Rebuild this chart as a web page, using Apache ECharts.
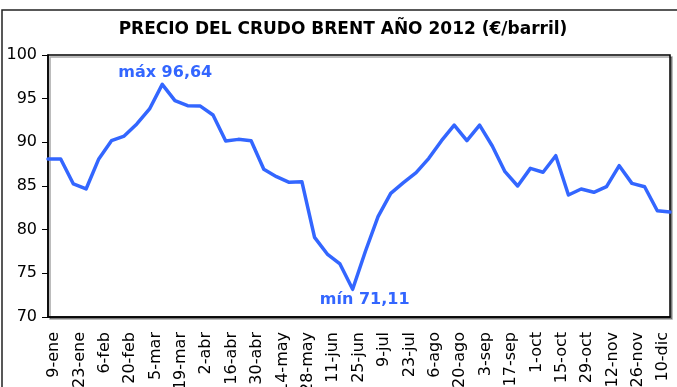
<!DOCTYPE html>
<html>
<head>
<meta charset="utf-8">
<script src="https://cdn.jsdelivr.net/npm/echarts@6/dist/echarts.min.js"></script>
<style>
  html, body { margin: 0; padding: 0; background: #fff; }
  #chart { width: 677px; height: 387px; }
</style>
</head>
<body>
<div id="chart"></div>
<script>
// Weekly Brent crude price in euros per barrel, 2012
const weeks = [
  '9-ene', '16-ene', '23-ene', '30-ene', '6-feb', '13-feb', '20-feb', '27-feb',
  '5-mar', '12-mar', '19-mar', '26-mar', '2-abr', '9-abr', '16-abr', '23-abr', '30-abr',
  '7-may', '14-may', '21-may', '28-may', '4-jun', '11-jun', '18-jun', '25-jun',
  '2-jul', '9-jul', '16-jul', '23-jul', '30-jul', '6-ago', '13-ago', '20-ago', '27-ago',
  '3-sep', '10-sep', '17-sep', '24-sep', '1-oct', '8-oct', '15-oct', '22-oct', '29-oct',
  '5-nov', '12-nov', '19-nov', '26-nov', '3-dic', '10-dic', '17-dic'
];

const prices = [
  88.09, 88.09, 85.23, 84.66, 88.10, 90.19, 90.72, 92.10,
  93.82, 96.64, 94.77, 94.20, 94.15, 93.13, 90.15, 90.34, 90.19,
  86.91, 86.07, 85.42, 85.50, 79.12, 77.21, 76.07, 73.17,
  77.50, 81.49, 84.16, 85.38, 86.53, 88.17, 90.19, 91.98, 90.19,
  91.98, 89.58, 86.64, 85.00, 87.02, 86.57, 88.47, 83.97, 84.66,
  84.28, 84.92, 87.33, 85.30, 84.92, 82.17, 82.02
];

const yMin = 70;
const yMax = 100;
const yStep = 5;

// Yearly extremes written next to the curve (offset in px from the point)
const notes = [
  { week: '12-mar', text: 'máx 96,64', offset: [3, -12] },
  { week: '25-jun', text: 'mín 71,11', offset: [12, 11] }
];

const BLUE = '#3366FF';
const chart = echarts.init(document.getElementById('chart'));

chart.setOption({
  animation: false,
  backgroundColor: '#fff',
  title: {
    text: 'PRECIO DEL CRUDO BRENT AÑO 2012 (€/barril)',
    left: 343,
    top: 21,
    textAlign: 'center',
    padding: 0,
    textStyle: {
      fontFamily: 'DejaVu Sans',
      fontWeight: 'bold',
      fontSize: 17,
      color: '#000'
    }
  },
  grid: {
    left: 48,
    right: 7,
    top: 55,
    bottom: 70,
    containLabel: false,
    outerBoundsMode: 'none',
    show: true,
    backgroundColor: '#fff',
    borderColor: '#000',
    borderWidth: 1.5,
    shadowColor: 'rgba(0,0,0,0.35)',
    shadowOffsetX: 2,
    shadowOffsetY: 2,
    shadowBlur: 0
  },
  xAxis: {
    type: 'category',
    data: weeks,
    boundaryGap: false,
    axisLine: { show: true, lineStyle: { color: '#000', width: 1.5 } },
    axisTick: { show: false },
    axisLabel: {
      interval: 1,
      rotate: 90,
      margin: 15,
      verticalAlign: 'top',
      lineHeight: 12,
      color: '#000',
      fontFamily: 'DejaVu Sans',
      fontSize: 16
    },
    splitLine: { show: false }
  },
  yAxis: {
    type: 'value',
    min: yMin,
    max: yMax,
    interval: yStep,
    axisLine: { show: true, lineStyle: { color: '#000', width: 1.5 } },
    axisTick: { show: true, inside: false, length: 6, lineStyle: { color: '#000', width: 1 } },
    axisLabel: {
      margin: 11,
      color: '#000',
      fontFamily: 'DejaVu Sans',
      fontSize: 16
    },
    splitLine: { show: false }
  },
  series: [{
    type: 'line',
    data: prices,
    symbol: 'none',
    lineStyle: { color: BLUE, width: 3.5, join: 'round', cap: 'round' }
  }]
});

// Outer frame plus the two annotations, placed from the series' own coordinates
const graphics = [{
  type: 'rect',
  shape: { x: 2, y: 10, width: 720, height: 420 },
  style: { fill: 'none', stroke: '#222', lineWidth: 1.5 },
  silent: true,
  z: 100
}];
notes.forEach(n => {
  const i = weeks.indexOf(n.week);
  const p = chart.convertToPixel({ seriesIndex: 0 }, [i, prices[i]]);
  graphics.push({
    type: 'text',
    x: p[0] + n.offset[0],
    y: p[1] + n.offset[1],
    silent: true,
    z: 100,
    style: {
      text: n.text,
      fill: BLUE,
      font: 'bold 16px "DejaVu Sans"',
      align: 'center',
      verticalAlign: 'middle'
    }
  });
});
chart.setOption({ graphic: graphics });
</script>
</body>
</html>
